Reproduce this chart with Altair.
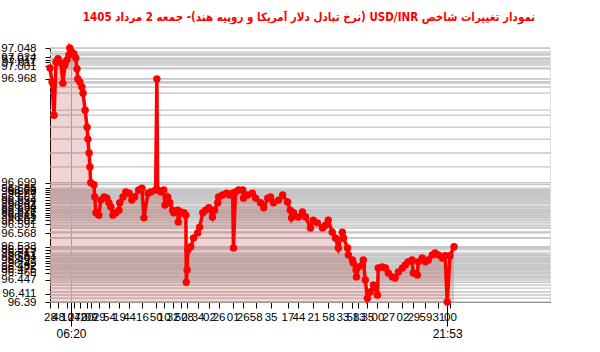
import altair as alt
import pandas as pd

TITLE = "نمودار تغییرات شاخص USD/INR (نرخ تبادل دلار آمریکا و روپیه هند)- جمعه  2 مرداد 1405"

# minutes of the day for each reading
TIMES = [328, 333, 338, 343, 348, 355, 360, 365, 370, 375,
         377, 382, 387, 392, 395, 397, 402, 407, 410, 415,
         420, 422, 425, 427, 429, 437, 439, 442, 449, 454,
         462, 469, 474, 479, 484, 491, 499, 501, 509, 516,
         524, 531, 538, 548, 556, 561, 571, 578, 590, 593,
         595, 603, 610, 613, 620, 625, 632, 635, 645, 646,
         652, 660, 665, 666, 668, 670, 677, 684, 694, 699,
         707, 714, 722, 731, 736, 744, 746, 756, 766, 773,
         781, 783, 788, 796, 806, 808, 818, 830, 838, 850,
         858, 868, 875, 882, 895, 905, 917, 924, 927, 932,
         944, 954, 962, 974, 981, 991, 1004, 1011, 1018, 1028,
         1036, 1043, 1053, 1056, 1066, 1068, 1078, 1080, 1087, 1088,
         1093, 1103, 1105, 1110, 1115, 1122, 1130, 1135, 1140, 1142,
         1152, 1160, 1167, 1177, 1184, 1192, 1202, 1209, 1216, 1226,
         1229, 1239, 1241, 1251, 1259, 1266, 1276, 1283, 1291, 1301,
         1308, 1313, 1320, 1330]

VALUES = [96.996, 96.960, 96.874, 97.012, 97.020, 97.009, 96.957, 97.004, 97.017, 97.030,
          97.048, 97.038, 97.033, 97.022, 96.994, 96.968, 96.960, 96.947, 96.931, 96.887,
          96.843, 96.812, 96.776, 96.740, 96.699, 96.694, 96.662, 96.621, 96.615, 96.654,
          96.662, 96.659, 96.647, 96.636, 96.615, 96.621, 96.628, 96.647, 96.662, 96.675,
          96.672, 96.654, 96.662, 96.680, 96.685, 96.608, 96.672, 96.675, 96.680, 96.968,
          96.680, 96.675, 96.680, 96.641, 96.662, 96.647, 96.628, 96.621, 96.628, 96.597,
          96.623, 96.621, 96.615, 96.441, 96.473, 96.525, 96.533, 96.556, 96.569, 96.584,
          96.621, 96.628, 96.634, 96.610, 96.628, 96.647, 96.662, 96.667, 96.672, 96.667,
          96.672, 96.530, 96.675, 96.680, 96.680, 96.659, 96.667, 96.672, 96.659, 96.647,
          96.634, 96.659, 96.662, 96.647, 96.654, 96.667, 96.649, 96.628, 96.608, 96.621,
          96.610, 96.623, 96.610, 96.582, 96.602, 96.595, 96.582, 96.589, 96.602, 96.571,
          96.556, 96.530, 96.571, 96.556, 96.530, 96.512, 96.499, 96.491, 96.473, 96.455,
          96.481, 96.486, 96.499, 96.447, 96.400, 96.416, 96.434, 96.426, 96.408, 96.478,
          96.481, 96.478, 96.465, 96.455, 96.452, 96.468, 96.478, 96.486, 96.494, 96.499,
          96.465, 96.460, 96.494, 96.504, 96.494, 96.499, 96.512, 96.517, 96.512, 96.504,
          96.510, 96.390, 96.510, 96.533]

Y_LABELS = [97.048, 97.024, 97.017, 97.011, 97.001, 96.968,
            96.699, 96.685, 96.680, 96.675, 96.670, 96.662, 96.654, 96.647,
            96.640, 96.634, 96.628, 96.621, 96.615, 96.610, 96.602, 96.591,
            96.568, 96.533, 96.525, 96.517, 96.510, 96.504, 96.497, 96.490,
            96.482, 96.475, 96.466, 96.447, 96.411, 96.39]

MARKED_TIMES = [380, 1313]  # 06:20 and 21:53

X_DOMAIN = [328, 1568]
Y_DOMAIN = [96.39, 97.048]

FONT = "Liberation Sans"
RED = "#ff0000"

df = pd.DataFrame({"t": TIMES, "v": VALUES})

xs = alt.Scale(domain=X_DOMAIN, nice=False, zero=False)
ys = alt.Scale(domain=Y_DOMAIN, nice=False, zero=False)

yaxis = alt.Axis(values=Y_LABELS, labelOverlap=False, grid=False, tickSize=5,
                 tickColor="black", domainColor="black", labelColor="black",
                 labelFont=FONT, labelFontSize=11.5, labelPadding=9,
                 labelExpr="datum.value + ''", title=None)
yenc = alt.Y("v:Q", scale=ys, axis=yaxis)

pad2 = "(floor(datum.value % 60) < 10 ? '0' : '') + floor(datum.value % 60)"
main_xaxis = alt.Axis(values=TIMES[::4], labelExpr=pad2, labelOverlap=False,
                      grid=False, tickSize=6, labelPadding=3, labelFont=FONT,
                      labelFontSize=11.5, labelColor="black", tickColor="black",
                      domainColor="black", orient="bottom", title=None,
                      labelFlush=False)

hhmm = ("(floor(datum.value / 60) < 10 ? '0' : '') + floor(datum.value / 60) + ':' + "
        "(floor(datum.value % 60) < 10 ? '0' : '') + floor(datum.value % 60)")
mark_xaxis = alt.Axis(values=MARKED_TIMES, labelExpr=hhmm, orient="bottom",
                      tickSize=24, tickColor="black", labelPadding=2, domain=False,
                      grid=True,
                      gridColor={"condition": {"test": "datum.value == 380", "value": "#b4b4b4"},
                                 "value": "rgba(0,0,0,0)"},
                      labelFont=FONT, labelFontSize=12, labelColor="black",
                      title=None, labelFlush=False, labelOverlap=False)

grid = alt.Chart(df).mark_rule(color="#c6c6c6", strokeWidth=1.4).encode(y=yenc)

area = alt.Chart(df).mark_area(color="#b22222", opacity=0.2).encode(
    x=alt.X("t:Q", scale=xs, axis=None), y=yenc, y2=alt.Y2(datum=Y_DOMAIN[0]))

line = alt.Chart(df).mark_line(
    color=RED, strokeWidth=3.5,
    point=alt.OverlayMarkDef(color=RED, size=55, filled=True, opacity=1)
).encode(x=alt.X("t:Q", scale=xs, axis=main_xaxis), y=yenc)

ghost = alt.Chart(df).mark_point(opacity=0).encode(
    x=alt.X("t:Q", scale=xs, axis=mark_xaxis), y=yenc)

chart = alt.layer(grid, area, line, ghost).resolve_scale(x="independent").properties(
    width=500, height=254,
    padding={"left": 50, "top": 48, "right": 50, "bottom": 50},
    autosize=alt.AutoSizeParams(type="none"),
    title=alt.TitleParams(text="\u202b" + TITLE + "\u202c", color=RED, fontSize=11.5,
                          fontWeight="bold", font="DejaVu Sans Condensed, DejaVu Sans",
                          anchor="middle", frame="group", offset=18, dx=9),
).configure_view(stroke=None).configure(background="white")

chart.save("out.html", embed_options={"renderer": "svg", "actions": False})
